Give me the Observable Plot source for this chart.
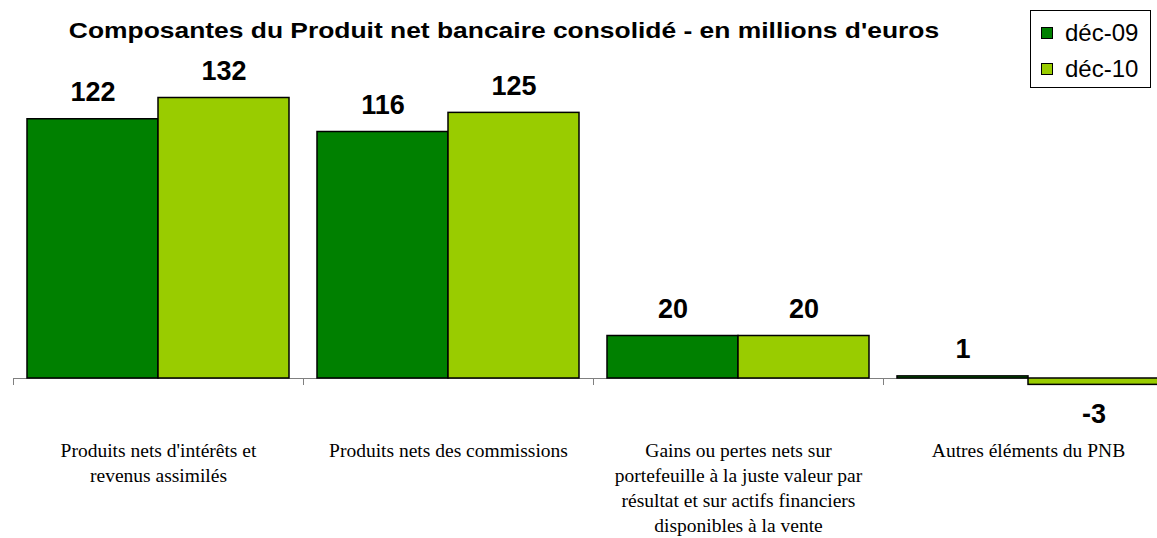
<!DOCTYPE html>
<html><head><meta charset="utf-8">
<script src="https://cdn.jsdelivr.net/npm/d3@7"></script>
<script src="https://cdn.jsdelivr.net/npm/@observablehq/plot@0.6"></script>
<style>
body{margin:0;overflow:hidden;background:#fff}
#wrap{position:relative;width:1157px;height:538px;overflow:hidden}
#chart{position:absolute;left:0;top:0}
#title{position:absolute;left:0;width:1008px;top:18px;text-align:center;font:bold 22px Arial,"Liberation Sans",sans-serif;line-height:26px;color:#000;white-space:nowrap;transform:scaleX(1.2);transform-origin:504px 50%}
#legend{position:absolute;left:1030px;top:10px;width:119px;height:76px;border:1px solid #000;background:#fff;font:24px Arial,"Liberation Sans",sans-serif}
.row{position:absolute;left:10px;display:flex;align-items:center;height:28px}
.sw{width:10px;height:10px;border:1px solid #000;margin-right:12px}
</style></head><body>
<div id="wrap">
<div id="chart"></div>
<div id="title"></div>
<div id="legend"></div>
</div>
<script>
const titleText = "Composantes du Produit net bancaire consolidé - en millions d'euros";
const categories = ["PNI", "COM", "GAINS", "AUTRES"];
const tickLabels = [
  "Produits nets d'intérêts et\nrevenus assimilés",
  "Produits nets des commissions",
  "Gains ou pertes nets sur\nportefeuille à la juste valeur par\nrésultat et sur actifs financiers\ndisponibles à la vente",
  "Autres éléments du PNB"
];
const series = ["déc-09", "déc-10"];
const values09 = [122, 116, 20, 1];
const values10 = [132, 125, 20, -3];
const colors = ["#008000", "#99CC00"];

const data = categories.flatMap((c, i) => [
  {cat: c, label: tickLabels[i], series: series[0], value: values09[i]},
  {cat: c, label: tickLabels[i], series: series[1], value: values10[i]}
]);

document.getElementById("title").textContent = titleText;
const legend = document.getElementById("legend");
series.forEach((s, i) => {
  const row = document.createElement("div");
  row.className = "row";
  row.style.top = (8 + i * 36) + "px";
  row.innerHTML = `<span class="sw" style="background:${colors[i]}"></span><span>${s}</span>`;
  legend.appendChild(row);
});

const valueFont = {fontFamily: "Arial, 'Liberation Sans', sans-serif", fontWeight: "bold", fontSize: 27, fill: "#000"};

const chart = Plot.plot({
  width: 1157,
  height: 538,
  marginTop: 97.5,
  marginBottom: 154,
  marginLeft: 12,
  marginRight: -17.7,
  facet: {data, x: "cat"},
  fx: {domain: categories, padding: 0, axis: null, label: null},
  x: {domain: series, paddingInner: 0, paddingOuter: 0.1, axis: null},
  y: {domain: [0, 132], range: [378, 97.5], axis: null},
  color: {domain: series, range: colors},
  marks: [
    Plot.frame({anchor: "left", stroke: "#808080", insetTop: 280.5}),
    Plot.ruleY([0], {stroke: "#808080"}),
    Plot.barY(data, {x: "series", y: "value", fill: "series", stroke: "#000", strokeWidth: 1.5}),
    Plot.text(data, {filter: d => d.value >= 0, x: "series", y: "value", text: d => String(d.value), dy: -27, ...valueFont}),
    Plot.text(data, {filter: d => d.value < 0, x: "series", y: "value", text: d => String(d.value), dy: 29, ...valueFont}),
    Plot.text(data, {filter: d => d.series === series[0], text: "label", frameAnchor: "bottom", lineAnchor: "top", dy: 55,
      fontFamily: "'Liberation Serif', 'Times New Roman', serif", fontSize: 19.5, lineHeight: 25 / 19.5, fill: "#000"})
  ]
});
document.getElementById("chart").appendChild(chart);
</script>
</body></html>
